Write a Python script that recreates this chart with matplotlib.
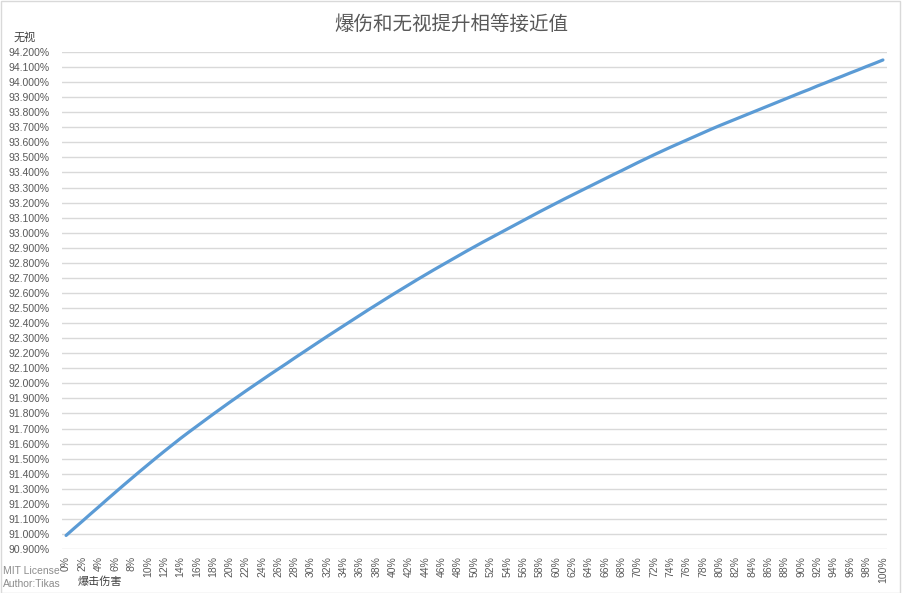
import numpy as np
import matplotlib.pyplot as plt
from matplotlib.patches import Rectangle

plt.rcParams['font.family'] = ['Noto Sans CJK SC', 'DejaVu Sans']

title = '爆伤和无视提升相等接近值'
x_label = '爆击伤害'
y_label = '无视'

# crit damage categories 0%..100% in 1% steps
crit = list(range(0, 101))
# (percent)
ignore = [
    90.990, 91.038, 91.085, 91.133, 91.180, 91.228, 91.275, 91.322, 91.368, 91.414,
    91.459, 91.504, 91.548, 91.591, 91.634, 91.675, 91.715, 91.755, 91.795, 91.834,
    91.873, 91.911, 91.949, 91.986, 92.023, 92.060, 92.096, 92.132, 92.169, 92.205,
    92.241, 92.277, 92.313, 92.348, 92.383, 92.418, 92.453, 92.488, 92.522, 92.556,
    92.590, 92.623, 92.656, 92.689, 92.721, 92.753, 92.784, 92.815, 92.846, 92.877,
    92.907, 92.937, 92.966, 92.995, 93.024, 93.053, 93.082, 93.111, 93.140, 93.168,
    93.196, 93.224, 93.251, 93.278, 93.305, 93.332, 93.359, 93.386, 93.412, 93.439,
    93.466, 93.492, 93.518, 93.543, 93.568, 93.592, 93.616, 93.640, 93.664, 93.688,
    93.711, 93.733, 93.755, 93.777, 93.799, 93.821, 93.843, 93.865, 93.887, 93.909,
    93.931, 93.952, 93.975, 93.996, 94.018, 94.039, 94.061, 94.082, 94.104, 94.125,
    94.147,
]
y_ticks = [round(90.9 + 0.1 * i, 1) for i in range(34)]

latin = ['Liberation Sans', 'DejaVu Sans']

fig = plt.figure(figsize=(9.02, 5.93), dpi=100)
W, H = 902, 593
ax = fig.add_axes([62 / W, 1 - 549 / H, (887 - 62) / W, (549 - 52) / H])

ax.plot(range(len(crit)), ignore, color='#5B9BD5', lw=2.3, solid_capstyle='round')

ax.set_xlim(-0.5, len(crit) - 0.5)
ax.set_ylim(90.9, 94.2)
ax.set_yticks(y_ticks)
ax.set_yticklabels([f'{v:.3f}%' for v in y_ticks], fontsize=7.5, color='#595959', family=latin)
xt = list(range(0, len(crit), 2))
ax.set_xticks(xt)
ax.set_xticklabels([f'{crit[i]}%' for i in xt], rotation=90, fontsize=7.5, color='#595959',
                   family=latin)
ax.tick_params(axis='y', length=0, pad=9)
ax.tick_params(axis='x', length=0, pad=5)
ax.grid(axis='y', color='#d9d9d9', lw=1)
ax.set_axisbelow(True)
for s in ax.spines.values():
    s.set_visible(False)

fig.text(451 / W, 1 - 24 / H, title, ha='center', va='center', fontsize=14, color='#595959')
fig.text(25 / W, 1 - 37 / H, y_label, ha='center', va='center', fontsize=8, color='#404040')
fig.text(100 / W, 1 - 582 / H, x_label, ha='center', va='center', fontsize=8, color='#404040')
fig.text(3 / W, 1 - 571 / H, 'MIT License', ha='left', va='center', fontsize=7.5, color='#8c8c8c',
         family=latin)
fig.text(3 / W, 1 - 584 / H, 'Author:Tikas', ha='left', va='center', fontsize=7.5, color='#8c8c8c',
         family=latin)

fig.patches.append(Rectangle((0.5 / W, 0.5 / H), 1 - 3 / W, 1 - 1.5 / H, transform=fig.transFigure,
                             fill=False, edgecolor='#d9d9d9', lw=1))

fig.savefig('out.png', dpi=100)
